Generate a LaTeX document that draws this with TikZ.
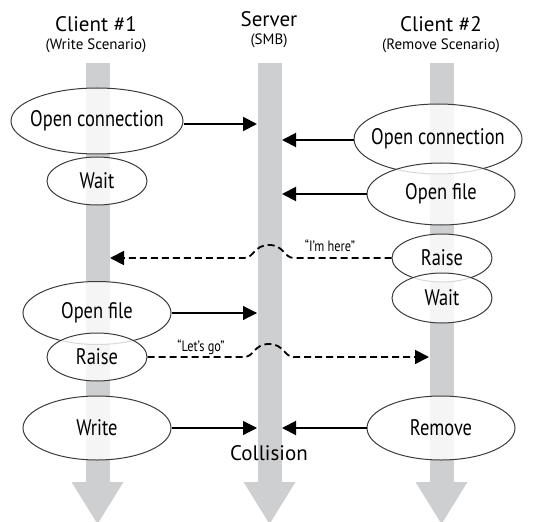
\documentclass[tikz,border=0pt]{standalone}
\usepackage{fontspec}
\setmainfont{PT Sans}
\newfontfamily\narrowfont[FakeStretch=0.82]{PT Sans}
\usetikzlibrary{arrows.meta,shapes.geometric}
\definecolor{lanegray}{RGB}{206,207,209}
\definecolor{rimgray}{RGB}{60,60,60}

\tikzset{
  actbox/.style={ellipse,draw=rimgray,line width=1pt,fill=white,fill opacity=0.8,
    text opacity=1,inner xsep=-7.5pt,inner ysep=0pt,
    font=\narrowfont\fontsize{22.5}{22.5}\selectfont},
  msgthick/.style={-{Triangle[length=14pt,width=14pt]},line width=2pt},
  msgthin/.style={-{Triangle[length=14pt,width=14pt]},line width=1.1pt},
  signal/.style={-{Triangle[length=14pt,width=14pt]},line width=1.8pt,dash pattern=on 7pt off 4pt},
  headline/.style={font=\fontsize{21}{21}\selectfont},
  subline/.style={font=\fontsize{15}{15}\selectfont},
  saying/.style={font=\narrowfont\fontsize{15}{15}\selectfont}
}

\begin{document}
\begin{tikzpicture}[x=1pt,y=-1pt]
  \useasboundingbox (0,0) rectangle (534,521);
  % time lines
  \foreach \x in {97.5,269.5,441.5}{
    \fill[lanegray] (\x-12,63) rectangle (\x+12,482);
    \fill[lanegray] (\x-26,482) -- (\x+26,482) -- (\x,524) -- cycle;
  }
  \node[headline] (c1head) at (96,24) {Client \#1};
  \node[subline] (c1sub) at (96,46) {(Write Scenario)};
  \node[headline] (srvhead) at (269,19) {Server};
  \node[subline] (srvsub) at (269,41) {(SMB)};
  \node[headline] (c2head) at (441,24) {Client \#2};
  \node[subline] (c2sub) at (441,46) {(Remove Scenario)};

  % client 1
  \node[actbox,minimum width=172pt,minimum height=66pt] (c1conn) at (97,121) {Open connection};
  \node[actbox,minimum width=100pt,minimum height=48pt] (c1wait) at (97,181) {Wait};
  \node[actbox,minimum width=148pt,minimum height=63pt] (c1file) at (97,313) {Open file};
  \node[actbox,minimum width=100pt,minimum height=48pt] (c1raise) at (97,357) {Raise};
  \node[actbox,minimum width=148pt,minimum height=64pt] (c1write) at (97,428) {Write};
  % client 2
  \node[actbox,minimum width=168pt,minimum height=70pt] (c2conn) at (438,139) {Open connection};
  \node[actbox,minimum width=148pt,minimum height=62pt] (c2file) at (441,194) {Open file};
  \node[actbox,minimum width=100pt,minimum height=48pt] (c2raise) at (442,258) {Raise};
  \node[actbox,minimum width=100pt,minimum height=50pt] (c2wait) at (442,298) {Wait};
  \node[actbox,minimum width=148pt,minimum height=64pt] (c2remove) at (441,428) {Remove};

  \coordinate (srvconnA) at (257,124);
  \coordinate (srvconnB) at (282,140);
  \coordinate (srvfileB) at (282,194);
  \coordinate (srvfileA) at (257,313);
  \coordinate (srvwriteA) at (257,428);
  \coordinate (srvwriteB) at (282,428);
  \coordinate (c1lane) at (110,258);
  \coordinate (c2lane) at (429,357);

  \draw[msgthick] (c1conn.east |- srvconnA) -- (srvconnA);
  \draw[msgthick] (c2conn.west |- srvconnB) -- (srvconnB);
  \draw[msgthick] (c2file.west) -- (srvfileB);
  \draw[msgthin] (c1file.east) -- (srvfileA);
  \draw[msgthin] (c1write.east) -- (srvwriteA);
  \draw[msgthick] (c2remove.west) -- (srvwriteB);

  % signals hopping over the server
  \draw[signal] (c2raise.west) -- (294,258) .. controls (284,258) and (284,245) .. (269,245)
    .. controls (254,245) and (254,258) .. (244,258) -- (c1lane);
  \draw[signal] (c1raise.east) -- (244,357) .. controls (254,357) and (254,344) .. (269,344)
    .. controls (284,344) and (284,357) .. (294,357) -- (c2lane);
  \node[saying] (imhere) at (330,246) {“I’m here”};
  \node[saying] (letsgo) at (201,347) {“Let’s go”};
  \node[headline] (collide) at (269,453) {Collision};
\end{tikzpicture}
\end{document}
